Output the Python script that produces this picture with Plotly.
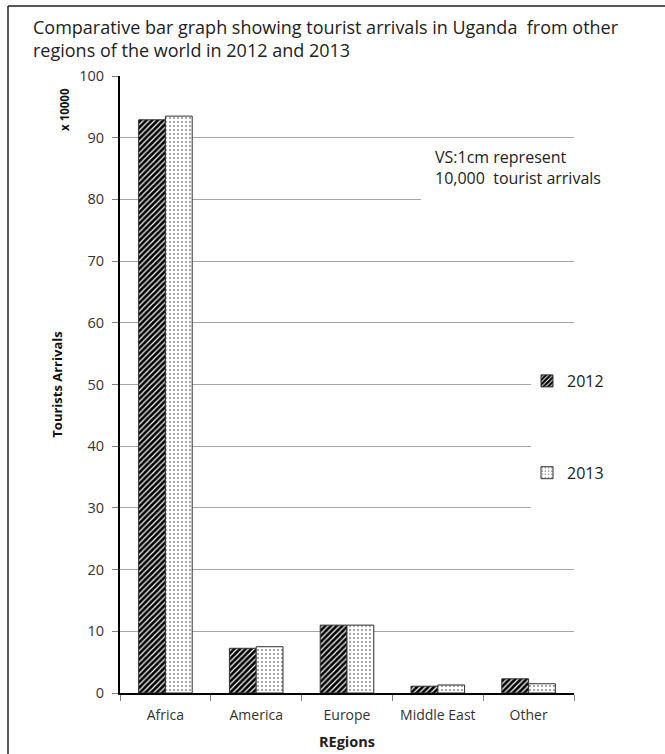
import plotly.graph_objects as go

# Tourist arrivals to Uganda by region (units of 10,000 arrivals)
regions = ["Africa", "America", "Europe", "Middle East", "Other"]
arrivals_2012 = [92.9, 7.25, 11.0, 1.1, 2.3]
arrivals_2013 = [93.5, 7.5, 11.0, 1.3, 1.5]
y_ticks = [0, 10, 20, 30, 40, 50, 60, 70, 80, 90, 100]

FONT = "Open Sans"
W, H = 665, 754
ML, MR, MT, MB = 120, 91, 76, 61

fig = go.Figure()
fig.add_trace(go.Bar(
    name="2012", x=regions, y=arrivals_2012, legendgroup="a",
    marker=dict(color="black", line=dict(color="#303030", width=1),
                pattern=dict(shape="/", bgcolor="black", fgcolor="white",
                             size=4, solidity=0.3, fillmode="replace")),
))
fig.add_trace(go.Bar(
    name="2013", x=regions, y=arrivals_2013, legendgroup="b",
    marker=dict(color="white", line=dict(color="#303030", width=1),
                pattern=dict(shape=".", bgcolor="white", fgcolor="black",
                             size=4, solidity=0.08, fillmode="replace")),
))

# paper-coordinate helpers for pixel placement
pw, ph = W - ML - MR, H - MT - MB
def px(x):
    return (x - ML) / pw
def py(y):
    return (H - MB - y) / ph

shapes = [
    # outer frame (left and top edges)
    dict(type="line", xref="paper", yref="paper", x0=px(8), x1=px(8),
         y0=py(6), y1=py(770), line=dict(color="#222", width=1.5)),
    dict(type="line", xref="paper", yref="paper", x0=px(8), x1=px(680),
         y0=py(6), y1=py(6), line=dict(color="#222", width=1.5)),
    # white panels behind the note and the legend
    dict(type="rect", xref="paper", yref="y", x0=px(421), x1=1.002, y0=76, y1=86,
         fillcolor="white", line=dict(width=0), layer="above"),
    dict(type="rect", xref="paper", yref="y", x0=px(531), x1=1.002, y0=25, y1=57,
         fillcolor="white", line=dict(width=0), layer="above"),
]

annotations = [
    dict(text="Comparative bar graph showing tourist arrivals in Uganda  from other<br>"
              "regions of the world in 2012 and 2013",
         xref="paper", yref="paper", x=px(31), y=py(13), xanchor="left", yanchor="top",
         align="left", showarrow=False, font=dict(family=FONT, size=18, color="#222")),
    dict(text="VS:1cm represent<br>10,000  tourist arrivals", xref="paper", yref="paper",
         x=px(433), y=py(144), xanchor="left", yanchor="top", align="left",
         showarrow=False, font=dict(family=FONT, size=16, color="#222")),
    dict(text="<b>x 10000</b>", xref="paper", yref="paper", x=px(65), y=py(110),
         xanchor="center", yanchor="middle",
         textangle=-90, showarrow=False, font=dict(family=FONT, size=11.5, color="#111")),
]

fig.update_layout(
    width=W, height=H,
    margin=dict(l=ML, r=MR, t=MT, b=MB, autoexpand=False),
    paper_bgcolor="white", plot_bgcolor="white",
    font=dict(family=FONT, color="#333"),
    barmode="group", bargap=0.41, bargroupgap=0.0,
    legend=dict(x=px(527), y=py(364), xanchor="left", yanchor="top",
                bgcolor="rgba(0,0,0,0)", tracegroupgap=68,
                font=dict(family=FONT, size=16, color="#222")),
    shapes=shapes, annotations=annotations,
)
fig.update_xaxes(
    showline=True, linecolor="black", linewidth=2,
    ticks="outside", tickson="boundaries", ticklen=6, tickcolor="#808080",
    ticklabelstandoff=8,
    tickfont=dict(family=FONT, size=14, color="#333"),
    title=dict(text="<b>REgions</b>", font=dict(family=FONT, size=14.5, color="#222"), standoff=14),
    showgrid=False,
)
fig.update_yaxes(
    range=[0, 100], tickvals=y_ticks,
    showline=True, linecolor="black", linewidth=2,
    ticks="outside", ticklen=6, tickcolor="#808080",
    ticklabelstandoff=5,
    showgrid=True, gridcolor="#a6a6a6", gridwidth=1, zeroline=False,
    tickfont=dict(family=FONT, size=14.5, color="#333"),
    title=dict(text="<b>Tourists Arrivals</b>", font=dict(family=FONT, size=13, color="#111"), standoff=14),
)

fig.write_html("out.html")
